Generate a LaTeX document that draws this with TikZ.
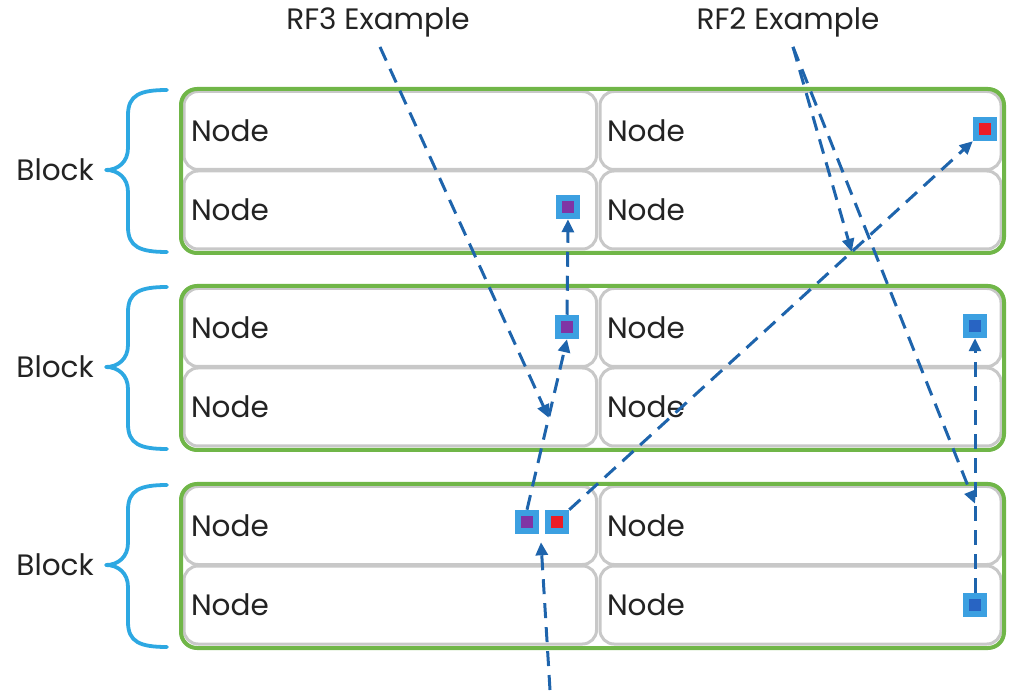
\documentclass[tikz,border=0pt]{standalone}
\usepackage{fontspec}
\setmainfont{Poppins}
\usetikzlibrary{arrows.meta,calc}

\definecolor{blockgreen}{RGB}{112,182,72}
\definecolor{cellgray}{RGB}{200,200,200}
\definecolor{bracecyan}{RGB}{45,168,226}
\definecolor{flowblue}{RGB}{30,100,172}
\definecolor{sqcyan}{RGB}{60,160,225}
\definecolor{sqpurple}{RGB}{128,52,165}
\definecolor{sqred}{RGB}{235,28,38}
\definecolor{sqblue}{RGB}{40,100,195}
\definecolor{inktext}{RGB}{35,35,35}

\begin{document}
\begin{tikzpicture}[x=1pt,y=-1pt,
  txt/.style={font=\fontsize{29.5}{34}\selectfont, text=inktext},
  cell/.style={draw=cellgray, line width=3pt, rounded corners=14pt,
    minimum height=78pt, inner xsep=7pt, inner ysep=0pt, outer sep=0pt,
    align=left, txt, anchor=north west},
  leftcell/.style={cell, text width=398.5pt},
  rightcell/.style={cell, text width=387pt},
  blockframe/.style={draw=blockgreen, line width=4pt, rounded corners=16pt,
    minimum width=823pt, minimum height=164pt, inner sep=0pt},
  bracepath/.style={draw=bracecyan, line width=3.8pt, line cap=round, line join=round},
  sq/.style={draw=sqcyan, line width=6.5pt, minimum size=18pt, inner sep=0pt, fill=#1},
  flow/.style={draw=flowblue, line width=3pt, dash pattern=on 15pt off 9pt,
    -{Triangle[length=13pt,width=12pt]}},
]
\useasboundingbox (0,0) rectangle (1010,700);

% three blocks, each a 2x2 grid of nodes with a brace and label
\foreach \b/\dy in {1/0,2/197,3/395}{
  \node[leftcell]  (c\b-tl) at (184,91.5+\dy) {Node};
  \node[rightcell] (c\b-tr) at (600,91.5+\dy) {Node};
  \node[leftcell]  (c\b-bl) at (184,171+\dy)  {Node};
  \node[rightcell] (c\b-br) at (600,171+\dy)  {Node};
  \node[blockframe] (blk\b) at (592.5,171+\dy) {};
  \draw[bracepath] (167,90+\dy) .. controls (140,90+\dy) and (128,95+\dy) .. (128,115+\dy)
    -- (128,148+\dy) .. controls (128,162+\dy) and (118,170+\dy) .. (106,170+\dy)
    .. controls (118,170+\dy) and (128,178+\dy) .. (128,192+\dy)
    -- (128,227+\dy) .. controls (128,247+\dy) and (140,252+\dy) .. (167,252+\dy);
  \node[txt, anchor=east, inner sep=0pt] (lbl\b) at (94,170+\dy) {Block};
}

% example captions
\node[txt, inner sep=0pt] (rf3) at (378,22) {RF3 Example};
\node[txt, inner sep=0pt] (rf2) at (788,22) {RF2 Example};

% replica markers
\node[sq=sqpurple] (sq1) at (568,207) {};
\node[sq=sqred]    (sq2) at (985,129) {};
\node[sq=sqpurple] (sq3) at (567,327) {};
\node[sq=sqblue]   (sq4) at (975,326) {};
\node[sq=sqpurple] (sq5) at (527,522) {};
\node[sq=sqred]    (sq6) at (557,522) {};
\node[sq=sqblue]   (sq7) at (975,605) {};

% RF3 chain
\coordinate (rf3foot) at (550,690);
\draw[flow] (rf3foot) -- ([xshift=14pt,yshift=-8pt]sq5.south);
\draw[flow] (sq5.north) -- (sq3.south);
\draw[flow] (sq3.north) -- (sq1.south);

% RF2 chain
\draw[flow] (sq6.north east) -- (sq2.south west);
\draw[flow] (sq7.north) -- (sq4.south);

% caption pointers
\coordinate (rf3hit) at ($(sq5.north)!0.54!(sq3.south)$);
\coordinate (rf2hitA) at ($(sq6.north east)!0.70!(sq2.south west)$);
\coordinate (rf2hitB) at ($(sq7.north)!0.35!(sq4.south)$);
\draw[flow] ([xshift=2pt,yshift=-10pt]rf3.south) -- (rf3hit);
\draw[flow] ([xshift=5pt,yshift=-10pt]rf2.south) -- (rf2hitA);
\draw[flow] ([xshift=5pt,yshift=-10pt]rf2.south) -- (rf2hitB);
\end{tikzpicture}
\end{document}
